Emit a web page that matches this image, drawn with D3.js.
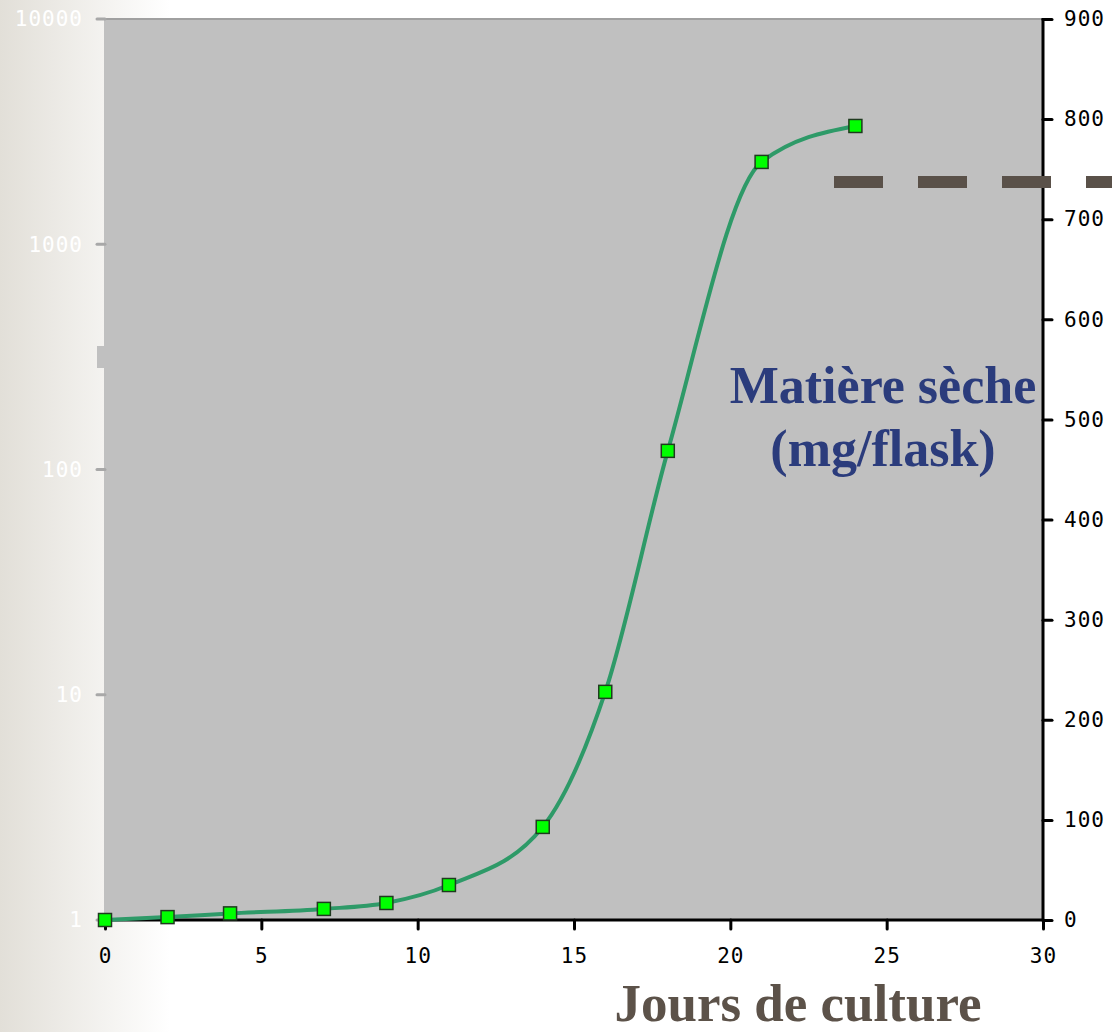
<!DOCTYPE HTML>
<html>
<head>
<meta charset="utf-8">
<title>Matière sèche</title>
<script src="https://d3js.org/d3.v7.min.js"></script>
<style>
  body { margin: 0; background: #ffffff; }
  svg { display: block; }
</style>
</head>

<body>
<script>

"use strict";

// days of culture and dry matter (mg/flask, log scale on the left)
const days = [0, 2, 4, 7, 9, 11, 14, 16, 18, 21, 24];
const dryMatter = [1.0, 1.03, 1.07, 1.12, 1.19, 1.43, 2.59, 10.3, 121, 2320, 3350];

const xTicks = [0, 5, 10, 15, 20, 25, 30];
const leftTicks = [1, 10, 100, 1000, 10000];
const rightTicks = [0, 100, 200, 300, 400, 500, 600, 700, 800, 900];

const W = 1112, H = 1032;
const plotLeft = 105, plotRight = 1043, plotTop = 19, plotBottom = 920;
const tickFont = "DejaVu Sans Mono";

const svg = d3.select("body").append("svg")
  .attr("width", W)
  .attr("height", H);

// page background, beige fading to white
const grad = svg.append("defs").append("linearGradient")
  .attr("id", "bg")
  .attr("x1", 0).attr("x2", 1).attr("y1", 0).attr("y2", 0);
grad.append("stop").attr("offset", 0).attr("stop-color", "#e2dfd8");
grad.append("stop").attr("offset", 1).attr("stop-color", "#ffffff");

svg.append("rect")
  .attr("x", 0).attr("y", 0)
  .attr("width", 170).attr("height", H)
  .attr("fill", "url(#bg)");

const x = d3.scaleLinear().domain([0, 30]).range([plotLeft, plotRight]);
const y = d3.scaleLog().domain([1, 10000]).range([plotBottom, plotTop]);
const y2 = d3.scaleLinear().domain([0, 900]).range([plotBottom, plotTop]);

// plot area
svg.append("rect")
  .attr("x", plotLeft - 1).attr("y", plotTop)
  .attr("width", plotRight - plotLeft + 1).attr("height", plotBottom - plotTop)
  .attr("fill", "#c0c0c0");

svg.append("line")
  .attr("x1", plotLeft - 1).attr("x2", plotRight)
  .attr("y1", plotTop).attr("y2", plotTop)
  .attr("stroke", "#a0a0a0")
  .attr("stroke-width", 2);

// stray gray mark on the left edge
svg.append("rect")
  .attr("x", 97).attr("y", 346)
  .attr("width", 8).attr("height", 22)
  .attr("fill", "#c0c0c0");

// left log axis: gray ticks, white labels
const gl = svg.append("g").attr("transform", "translate(" + plotLeft + ",0)");
gl.selectAll("line")
  .data(leftTicks)
  .enter()
  .append("line")
  .attr("x1", -8).attr("x2", 0)
  .attr("y1", (d) => y(d)).attr("y2", (d) => y(d))
  .attr("stroke", "#a8a8a8")
  .attr("stroke-width", 3)
  .attr("stroke-linecap", "round");
gl.selectAll("text")
  .data(leftTicks)
  .enter()
  .append("text")
  .attr("x", -22)
  .attr("y", (d) => y(d))
  .attr("dy", "0.35em")
  .attr("text-anchor", "end")
  .attr("font-family", tickFont)
  .attr("font-size", 21)
  .attr("letter-spacing", 1)
  .attr("fill", "#ffffff")
  .text((d) => d);

// bottom axis
const gx = svg.append("g").attr("transform", "translate(0," + plotBottom + ")");
gx.call(d3.axisBottom(x).tickValues(xTicks).tickSize(9).tickPadding(19).tickFormat(d3.format("d")));
gx.select(".domain").attr("stroke", "#000").attr("stroke-width", 3)
  .attr("d", "M" + (plotLeft - 1) + ",0H" + plotRight);
gx.selectAll(".tick line").attr("stroke", "#000").attr("stroke-width", 3).attr("stroke-linecap", "round");
gx.selectAll(".tick text")
  .attr("font-family", tickFont)
  .attr("font-size", 21)
  .attr("letter-spacing", 1)
  .attr("fill", "#000");

// right axis
const gr = svg.append("g").attr("transform", "translate(" + plotRight + ",0)");
gr.call(d3.axisRight(y2).tickValues(rightTicks).tickSize(9).tickPadding(12).tickFormat(d3.format("d")));
gr.select(".domain").attr("stroke", "#000").attr("stroke-width", 3)
  .attr("d", "M0," + (plotTop - 1) + "V" + (plotBottom + 1));
gr.selectAll(".tick line").attr("stroke", "#000").attr("stroke-width", 3).attr("stroke-linecap", "round");
gr.selectAll(".tick text")
  .attr("font-family", tickFont)
  .attr("font-size", 21)
  .attr("letter-spacing", 1)
  .attr("fill", "#000");

// curve and markers
const pts = days.map((d, i) => [d, dryMatter[i]]);

svg.append("path")
  .datum(pts)
  .attr("fill", "none")
  .attr("stroke", "#2e9a68")
  .attr("stroke-width", 4)
  .attr("d", d3.line()
    .x((d) => x(d[0]))
    .y((d) => y(d[1]))
    .curve(d3.curveMonotoneX));

svg.append("g").selectAll("rect")
  .data(pts)
  .enter()
  .append("rect")
  .attr("x", (d) => x(d[0]) - 6.5)
  .attr("y", (d) => y(d[1]) - 6.5)
  .attr("width", 13)
  .attr("height", 13)
  .attr("fill", "#00ff00")
  .attr("stroke", "#1f3a1f")
  .attr("stroke-width", 1.5);

// dashed marker line on the right
svg.append("line")
  .attr("x1", 834).attr("x2", W)
  .attr("y1", 182).attr("y2", 182)
  .attr("stroke", "#5a5149")
  .attr("stroke-width", 12)
  .attr("stroke-dasharray", "49 35");

// labels
const label = svg.append("text")
  .attr("text-anchor", "middle")
  .attr("font-family", "Liberation Serif")
  .attr("font-weight", "bold")
  .attr("font-size", 52)
  .attr("fill", "#2b3c7c");
label.append("tspan").attr("x", 883).attr("y", 403).text("Matière sèche");
label.append("tspan").attr("x", 883).attr("y", 466).text("(mg/flask)");

svg.append("text")
  .attr("x", 798)
  .attr("y", 1021)
  .attr("text-anchor", "middle")
  .attr("font-family", "Liberation Serif")
  .attr("font-weight", "bold")
  .attr("font-size", 53)
  .attr("fill", "#5c5249")
  .text("Jours de culture");

</script>
</body>
</html>
